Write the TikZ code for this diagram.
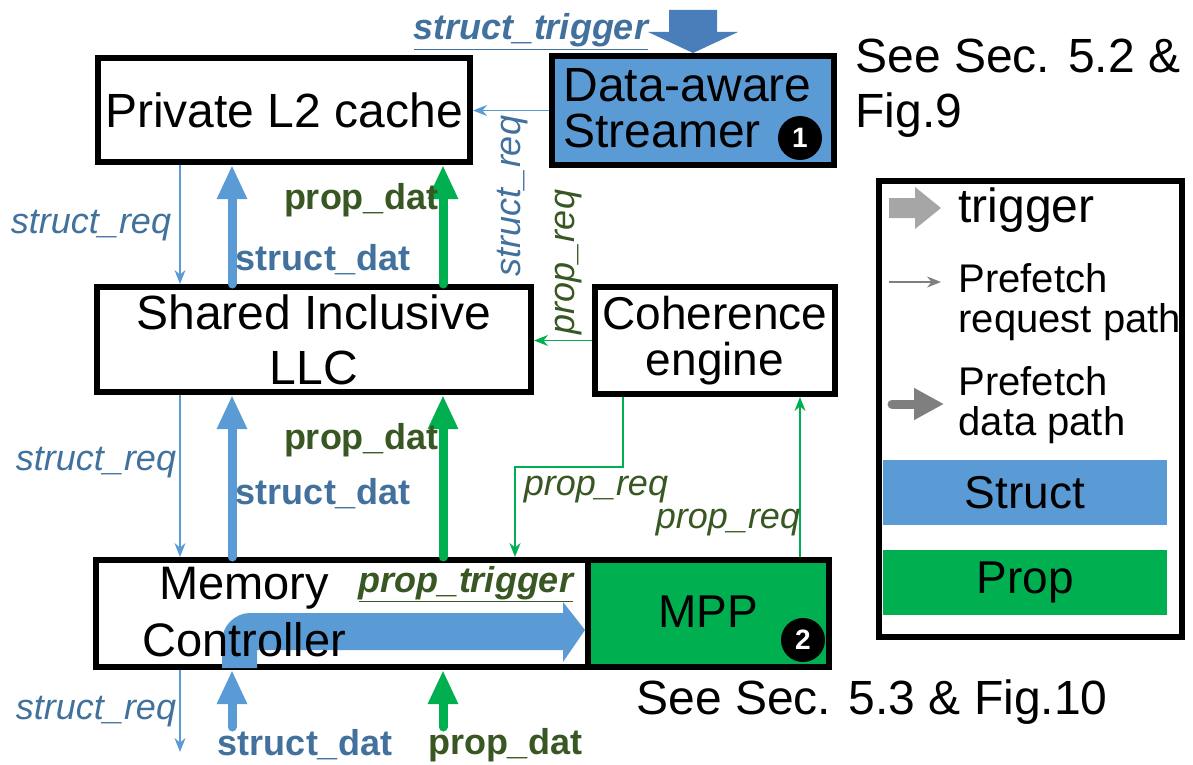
\documentclass[tikz,border=0pt]{standalone}
\usepackage{fontspec}
\setmainfont{Liberation Sans}
\usetikzlibrary{arrows.meta}

\definecolor{structfill}{RGB}{91,155,213}
\definecolor{structdark}{RGB}{65,113,156}
\definecolor{structarrow}{RGB}{74,126,187}
\definecolor{propfill}{RGB}{0,176,80}
\definecolor{propdark}{RGB}{56,87,35}
\definecolor{keylight}{RGB}{166,166,166}
\definecolor{keydark}{RGB}{127,127,127}

\begin{document}
\begin{tikzpicture}[x=1pt, y=-1pt,
	box/.style={draw, line width=6pt, inner sep=0pt},
	bigtext/.style={font=\fontsize{48}{55}\selectfont, align=center},
	midtext/.style={font=\fontsize{46}{46}\selectfont, align=center},
	reqline/.style={line width=1.6pt, -{Stealth[length=14pt,width=11pt]}},
	datline/.style={line width=9pt, line cap=round, -{Triangle[length=34pt,width=28pt]}},
	reqlabel/.style={font=\fontsize{36}{40}\selectfont\itshape},
	datlabel/.style={font=\fontsize{36}{40}\selectfont\bfseries},
	num/.style={circle, fill=black, text=white, minimum size=44pt, inner sep=0pt, font=\fontsize{28}{28}\selectfont\bfseries}]
		\useasboundingbox (0,0) rectangle (1193,765);
		% Draw boxes
		\node[box, bigtext, minimum width=372pt, minimum height=104pt] (l2) at (284,110) {Private L2 cache};
		\node[box, fill=structfill, minimum width=282pt, minimum height=109pt] (streamer) at (693,110.5) {};
		\node[box, bigtext, minimum width=434pt, minimum height=105pt] (llc) at (314,339.5) {Shared Inclusive\\LLC};
		\node[box, midtext, minimum width=240pt, minimum height=107pt] (coh) at (715,340.5) {Coherence\\engine};
		\node[box, minimum width=492pt, minimum height=107pt] (mc) at (342,613.5) {};
		\node[box, fill=propfill, minimum width=241pt, minimum height=107pt] (mpp) at (708.5,613.5) {};
		% Trigger arrows
		\fill[structarrow] (streamer.north) -- ++(45,-21) -- ++(-21,0) -- ++(0,-22) -- ++(-48,0) -- ++(0,22) -- ++(-21,0) -- cycle;
		\fill[structfill] (222,668) -- (222,641) .. controls (222,626) and (235,613) .. (250,613) -- (563,613) -- (563,602) -- (585,630) -- (563,662) -- (563,650) -- (257,650) -- (257,668) -- cycle;
		\node[font=\fontsize{36}{40}\selectfont\bfseries\itshape, text=structdark, anchor=base] (strig) at (531,40) {\underline{struct\_trigger}};
		\node[font=\fontsize{36}{40}\selectfont\bfseries\itshape, text=propdark, anchor=base] (ptrig) at (466,592) {\underline{prop\_trigger}};
		% Box texts
		\node[font=\fontsize{48}{46}\selectfont, align=left, anchor=west] (sname) at (560,108) {Data-aware\\Streamer};
		\node[font=\fontsize{47}{57}\selectfont, align=center] (mname) at (244,612) {Memory\\Controller};
		\node[midtext] (pname) at (708,612) {MPP};
		\node[num] (one) at (800,138) {1};
		\node[num] (two) at (803,640) {2};
		\node[bigtext, align=left, anchor=west] (see1) at (852,88) {See Sec. 5.2 \&\\Fig.9};
		\node[bigtext] (see2) at (872,702) {See Sec. 5.3 \& Fig.10};
		% Columns of paths
		\coordinate (rx) at (180,0);
		\coordinate (sx) at (232,0);
		\coordinate (px) at (443,0);
		\coordinate (reqend) at (180,752);
		\coordinate (datstart) at (0,727);
		\draw[reqline, structfill] (l2.south -| rx) -- (llc.north -| rx);
		\draw[reqline, structfill] (llc.south -| rx) -- (mc.north -| rx);
		\draw[reqline, structfill] (mc.south -| rx) -- (reqend);
		\draw[datline, structfill] (llc.north -| sx) -- (l2.south -| sx);
		\draw[datline, structfill] (mc.north -| sx) -- (llc.south -| sx);
		\draw[datline, structfill] (datstart -| sx) -- (mc.south -| sx);
		\draw[datline, propfill] (llc.north -| px) -- (l2.south -| px);
		\draw[datline, propfill] (mc.north -| px) -- (llc.south -| px);
		\draw[datline, propfill] (datstart -| px) -- (mc.south -| px);
		\draw[reqline, structfill] (streamer.west) -- (streamer.west -| l2.east);
		\draw[reqline, propfill] (coh.west) -- (coh.west -| llc.east);
		\coordinate (cx) at (623,0);
		\coordinate (bend) at (515,467);
		\coordinate (ux) at (800,0);
		\draw[reqline, propfill] (coh.south -| cx) |- (bend) -- (bend |- mc.north);
		\draw[reqline, propfill] (mpp.north -| ux) -- (coh.south -| ux);
		% Label paths
		\node[reqlabel, text=structdark] (rq1) at (91,226) {struct\_req};
		\node[reqlabel, text=structdark] (rq2) at (96,463) {struct\_req};
		\node[reqlabel, text=structdark] (rq3) at (96,712) {struct\_req};
		\node[datlabel, text=structdark] (sd1) at (323,260) {struct\_dat};
		\node[datlabel, text=structdark] (sd2) at (323,494) {struct\_dat};
		\node[datlabel, text=structdark] (sd3) at (305,745) {struct\_dat};
		\node[datlabel, text=propdark] (pd1) at (361,200) {prop\_dat};
		\node[datlabel, text=propdark] (pd2) at (361,440) {prop\_dat};
		\node[datlabel, text=propdark] (pd3) at (505,745) {prop\_dat};
		\node[reqlabel, text=structdark, rotate=90] (rq4) at (513,196) {struct\_req};
		\node[reqlabel, text=propdark, rotate=90] (pq1) at (569,262) {prop\_req};
		\node[reqlabel, text=propdark] (pq2) at (596,490) {prop\_req};
		\node[reqlabel, text=propdark] (pq3) at (728,523) {prop\_req};
		% Legend
		\node[box, minimum width=303pt, minimum height=456pt] (legend) at (1030.5,409) {};
		\coordinate (ktrig) at (889,208);
		\coordinate (kreq) at (889,282);
		\coordinate (kdat) at (892,404);
		\fill[keylight] (ktrig) -- ++(0,-10) -- ++(26,0) -- ++(0,-11) -- ++(26,21) -- ++(-26,21) -- ++(0,-11) -- ++(-26,0) -- cycle;
		\draw[reqline, keydark] (kreq) -- ++(52,0);
		\draw[line width=9pt, line cap=round, keydark, -{Triangle[length=30pt,width=30pt]}] (kdat) -- ++(52,0);
		\node[font=\fontsize{48}{48}\selectfont, anchor=west] (ktext1) at (955,210) {trigger};
		\node[font=\fontsize{40}{40}\selectfont, align=left, anchor=west] (ktext2) at (955,302) {Prefetch\\request path};
		\node[font=\fontsize{40}{40}\selectfont, align=left, anchor=west] (ktext3) at (955,405) {Prefetch\\data path};
		\node[fill=structfill, midtext, minimum width=284pt, minimum height=65pt] (skey) at (1025,492.5) {Struct};
		\node[fill=propfill, midtext, minimum width=284pt, minimum height=65pt] (pkey) at (1025,582.5) {Prop};
	\end{tikzpicture}
\end{document}
